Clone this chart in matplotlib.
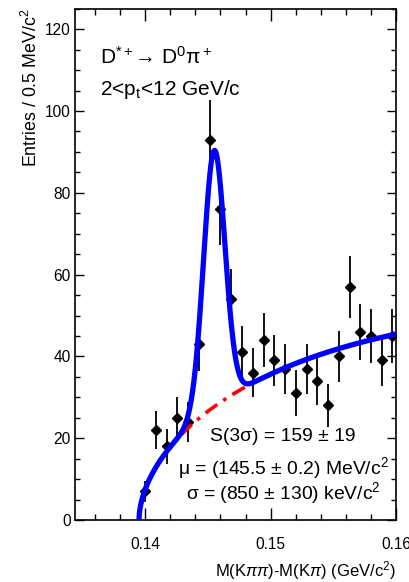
import numpy as np
import matplotlib
matplotlib.use("Agg")
import matplotlib.pyplot as plt
from matplotlib.ticker import MultipleLocator

plt.rcParams['font.family'] = ['Liberation Sans', 'DejaVu Sans']
plt.rcParams['mathtext.fontset'] = 'custom'
plt.rcParams['mathtext.rm'] = 'Liberation Sans'
plt.rcParams['mathtext.it'] = 'Liberation Sans:italic'
plt.rcParams['mathtext.bf'] = 'Liberation Sans:bold'

# ---- data ----
mass_diff = [0.14000, 0.14086, 0.14171, 0.14257, 0.14343, 0.14429, 0.14514, 0.14600,
             0.14686, 0.14771, 0.14857, 0.14943, 0.15029, 0.15114, 0.15200, 0.15286,
             0.15371, 0.15457, 0.15543, 0.15629, 0.15714, 0.15800, 0.15886, 0.15971]
entries = [7, 22, 18, 25, 24, 43, 93, 76,
           54, 41, 36, 44, 39, 37, 31, 37,
           34, 28, 40, 57, 46, 45, 39, 45]

# fit parameters
fit_mu = 0.1455
fit_sigma = 0.00085
fit_amp = 62.6
bkg_m0 = 0.1395
bkg_a = 504.0
bkg_b = 0.552
bkg_c = 12.7

x_ticks = [0.14, 0.15, 0.16]
y_ticks = [0, 20, 40, 60, 80, 100, 120]

fig = plt.figure(figsize=(4.10, 5.82), dpi=100)
ax = fig.add_axes([0.183, 0.1065, 0.783, 0.8785])

x = np.array(mass_diff)
y = np.array(entries, dtype=float)
yerr = np.sqrt(y)

xs = np.linspace(bkg_m0, 0.16, 800)
dx = xs - bkg_m0
bkg = bkg_a * dx**bkg_b * np.exp(-bkg_c * dx)
total = bkg + fit_amp * np.exp(-0.5 * ((xs - fit_mu) / fit_sigma) ** 2)

ax.errorbar(x, y, yerr=yerr, fmt='D', color='black', ms=4.8, elinewidth=1.3,
            capsize=0, zorder=3)
ax.plot(xs, bkg, color='#ff0000', lw=2.6, linestyle=(0, (4, 2, 1, 2)), zorder=4)
ax.plot(xs, total, color='#0000ff', lw=3.8, zorder=5, solid_capstyle='butt')

ax.set_xlim(0.1344, 0.16)
ax.set_ylim(0, 125)
ax.set_xticks(x_ticks)
ax.set_xticklabels(['0.14', '0.15', '0.16'])
ax.set_yticks(y_ticks)
ax.xaxis.set_minor_locator(MultipleLocator(0.002))
ax.yaxis.set_minor_locator(MultipleLocator(5))
ax.tick_params(which='both', direction='in', top=True, right=True, labelsize=11.2)
ax.tick_params(axis='x', which='major', length=8.6, width=1.0, pad=12)
ax.tick_params(axis='x', which='minor', length=4.3, width=1.0)
ax.tick_params(axis='y', which='major', length=6.5, width=1.0, pad=3)
ax.tick_params(axis='y', which='minor', length=3.6, width=1.0)
for sp in ax.spines.values():
    sp.set_linewidth(1.2)

ax.set_xlabel(r'M(K$\pi\pi$)-M(K$\pi$) (GeV/c$^2$)', fontsize=12.0, loc='right', labelpad=5)
ax.set_ylabel(r'Entries / 0.5 MeV/c$^2$', fontsize=12.8, loc='top', labelpad=3)

ax.text(0.13638, 113.3, r'D$^{*+}$→ D$^0$π$^+$', fontsize=15, ha='left', va='center')
ax.text(0.13638, 105.3, r'2<p$_\mathregular{t}$<12 GeV/c', fontsize=15, ha='left', va='center')

ax.text(0.15098, 20.3, 'S(3σ) = 159 ± 19', fontsize=13.9, ha='center', va='center')
ax.text(0.15098, 12.7, r'μ = (145.5 ± 0.2) MeV/c$^2$', fontsize=13.9, ha='center', va='center')
ax.text(0.15098, 6.6, r'σ = (850 ± 130) keV/c$^2$', fontsize=13.9, ha='center', va='center')

fig.savefig('out.png', dpi=100)
